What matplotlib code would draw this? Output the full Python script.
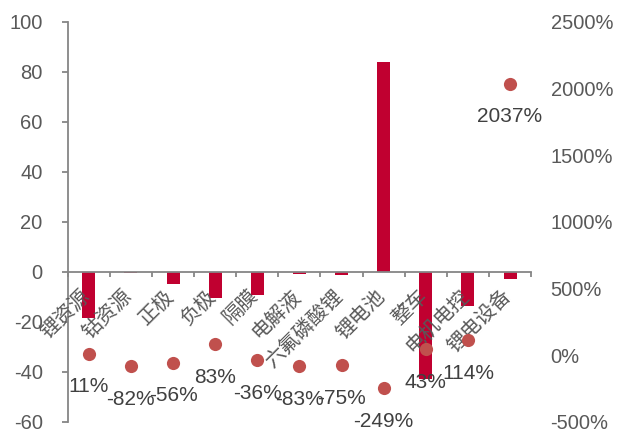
import matplotlib
matplotlib.use("Agg")
import matplotlib.pyplot as plt
import numpy as np

plt.rcParams['font.family'] = ['Liberation Sans', 'DejaVu Sans']
plt.rcParams['axes.unicode_minus'] = False

categories = ['锂资源', '钴资源', '正极', '负极', '隔膜', '电解液', '六氟磷酸锂',
              '锂电池', '整车', '电机电控', '锂电设备']
bar_values = [-18.4, -0.3, -5.0, -10.3, -9.4, -0.8, -1.3, 84.1, -42.9, -13.8, -2.7]
growth_pct = [11, -82, -56, 83, -36, -83, -75, -249, 43, 114, 2037]

BAR_COLOR = '#C00030'
DOT_COLOR = '#C0504D'
AXIS_GRAY = '#868686'
TICK_TEXT = '#595959'
LABEL_TEXT = '#404040'

fig = plt.figure(figsize=(6.19, 4.29), dpi=100)
ax = fig.add_axes([0.1094, 0.017, 0.858 - 0.1094, 0.949 - 0.017])
ax2 = ax.twinx()

x = np.arange(len(categories))
ax.bar(x, bar_values, width=0.31, color=BAR_COLOR, zorder=2)

ax.set_xlim(-0.5, len(categories) - 0.5)
ax.set_ylim(-60, 100)
ax.set_yticks(np.arange(-60, 101, 20))

for side in ('top', 'right'):
    ax.spines[side].set_visible(False)
ax.spines['left'].set_color(AXIS_GRAY)
ax.spines['left'].set_linewidth(1.3)
ax.spines['bottom'].set_position(('data', 0))
ax.spines['bottom'].set_color(AXIS_GRAY)
ax.spines['bottom'].set_linewidth(1.3)
ax.spines['bottom'].set_zorder(3)

ax.set_xticks(np.arange(-0.5, len(categories), 1.0))
ax.tick_params(axis='x', direction='out', length=3.5, width=1.3,
               color=AXIS_GRAY, labelbottom=False)
ax.tick_params(axis='y', direction='out', length=4.5, width=1.3,
               color=AXIS_GRAY, labelsize=14.5, labelcolor=TICK_TEXT, pad=13.5)

# category names written diagonally just under the zero line
for xi, name in zip(x, categories):
    ax.annotate(name, xy=(xi, 0), xytext=(4, -10), textcoords='offset points',
                rotation=45, ha='right', va='top', fontsize=14.5, color=TICK_TEXT,
                family=['Noto Sans CJK SC', 'DejaVu Sans'], zorder=5)

# secondary axis: growth rates as dots
ax2.scatter(x, growth_pct, s=90, color=DOT_COLOR, zorder=4, linewidths=0)
ax2.set_ylim(-500, 2500)
ax2.set_yticks(np.arange(-500, 2501, 500))
ax2.set_yticklabels([f'{v}%' for v in range(-500, 2501, 500)])
for side in ('top', 'right', 'left', 'bottom'):
    ax2.spines[side].set_visible(False)
ax2.tick_params(axis='y', length=0, labelsize=14.5, labelcolor=TICK_TEXT, pad=14)

for xi, v in zip(x, growth_pct):
    ax2.annotate(f'{v}%', xy=(xi, v), xytext=(0, -24), textcoords='offset points',
                 ha='center', va='center', fontsize=15, color=LABEL_TEXT, zorder=6)

fig.savefig('out.png', dpi=100)
